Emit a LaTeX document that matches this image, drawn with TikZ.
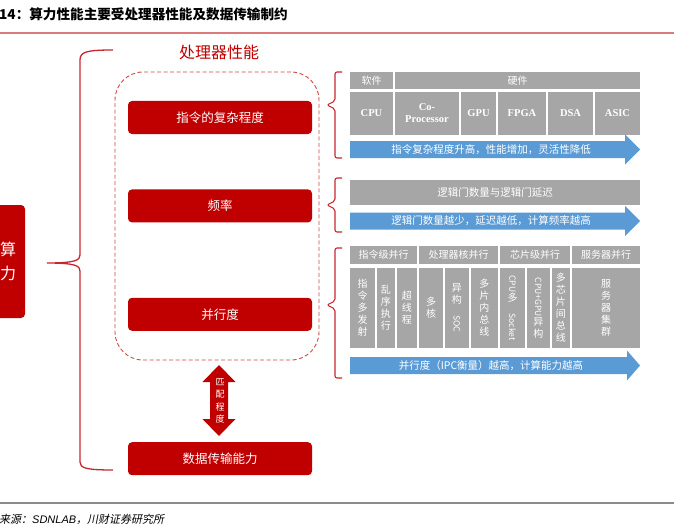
\documentclass[tikz,border=0pt]{standalone}
\usepackage{fontspec}
\setmainfont{Noto Sans CJK SC}
\newfontfamily\serifl{Liberation Serif}
\newfontfamily\sansl{Liberation Sans}
\newfontfamily\cjkslant{Noto Sans CJK SC}[FakeSlant=0.2]
\usetikzlibrary{positioning}
\definecolor{boxred}{HTML}{C00000}
\definecolor{framered}{HTML}{D04848}
\definecolor{bracered}{HTML}{C8262E}
\definecolor{cellgray}{HTML}{A6A6A6}
\definecolor{flowblue}{HTML}{5B9BD5}
\definecolor{rulered}{HTML}{DC7A7C}
\definecolor{rulegray}{HTML}{8C8C8C}
\newcommand{\rot}[1]{\rotatebox{-90}{\fontsize{8.5}{10}\selectfont #1}}
\newcommand{\flowarrow}[4]{%
  \fill[flowblue] (350,#2-8.5) -- (#3,#2-8.5) -- (#3,#2-15) -- (640,#2)
    -- (#3,#2+15) -- (#3,#2+8.5) -- (350,#2+8.5) -- cycle;
  \node[flowtext] (#1) at (491,#2) {#4};}
\newcommand{\sidebrace}[3]{%
  \draw[brc, rounded corners=2pt] (342,#1) -- (335,#1) -- (335,#3-4)
    -- (327,#3) -- (335,#3+4) -- (335,#2) -- (342,#2);}

\begin{document}
\begin{tikzpicture}[x=1pt,y=-1pt,
  redbox/.style={fill=boxred, rounded corners=4pt, text=white, inner sep=0pt,
    minimum width=184pt, minimum height=33pt, font=\fontsize{12.5}{14}\selectfont},
  frame/.style={draw=framered, dash pattern=on 4pt off 2.5pt, line width=0.9pt,
    rounded corners=28pt, minimum width=204pt, minimum height=288pt},
  brc/.style={draw=bracered, line width=1.1pt},
  cell/.style={fill=cellgray, text=white, inner sep=0pt, align=center},
  headcell/.style={cell, minimum height=17.5pt, font=\fontsize{10}{12}\selectfont},
  latcell/.style={cell, minimum height=43pt, font=\serifl\bfseries\fontsize{10.5}{12}\selectfont},
  stackcell/.style={cell, minimum height=80pt, font=\fontsize{10}{12}\selectfont},
  flowtext/.style={text=white, inner sep=0pt, font=\fontsize{10.5}{12}\selectfont}]
\useasboundingbox (0,0) rectangle (674,532);

% title and rules
\node[anchor=west, inner sep=0pt, font=\fontsize{13.6}{16}\selectfont\bfseries] (title)
  at (-1,14) {14：算力性能主要受处理器性能及数据传输制约};
\draw[rulered, line width=1.6pt] (0,33) -- (674,33);
\draw[rulegray, line width=1.8pt] (0,503) -- (674,503);
\node[anchor=west, inner sep=0pt, font=\cjkslant\fontsize{11}{13}\selectfont] (source)
  at (-1,519) {来源：{\sansl\itshape SDNLAB}，川财证券研究所};

% left side
\node[redbox, minimum width=34pt, minimum height=113pt, align=center,
  font=\fontsize{16}{24}\selectfont] (power) at (8,261.5) {算\\力};
\draw[brc, line width=1.3pt] (113,50) .. controls (86,50) and (80,52) .. (80,60) -- (80,255)
  .. controls (80,260) and (76,263) .. (47,263)
  .. controls (76,263) and (80,266) .. (80,271) -- (80,462)
  .. controls (80,468) and (86,470) .. (113,470);

% processor performance
\node[frame] (proc) at (217,216) {};
\node[text=boxred, inner sep=0pt, font=\fontsize{16}{18}\selectfont] (proclabel)
  at (219,52) {处理器性能};
\node[redbox] (ins) at (220,117.5) {指令的复杂程度};
\node[redbox, below=55pt of ins] (freq) {频率};
\node[redbox, below=75pt of freq] (par) {并行度};
\node[redbox, below=111pt of par] (data) {数据传输能力};
\fill[boxred] (219,365) -- (235.5,382) -- (228,382) -- (228,419) -- (235.5,419)
  -- (219,436) -- (202.5,419) -- (210,419) -- (210,382) -- (202.5,382) -- cycle;
\node[text=white, inner sep=0pt, align=center, font=\fontsize{9}{12.5}\selectfont] (match)
  at (220,401) {匹\\配\\程\\度};

% complexity group
\sidebrace{72}{158}{105}
\node[headcell, minimum width=43pt] (soft) at (371.5,80.75) {软件};
\node[headcell, minimum width=245pt] (hard) at (517.5,80.75) {硬件};
\foreach \nm/\xa/\xb/\txt in {cpu/350/393/CPU, cop/395/459/Co-\\Processor,
    gpu/461/496/GPU, fpga/498/546/FPGA, dsa/548/593/DSA, asic/595/640/ASIC}
  \node[latcell, minimum width={(\xb-\xa)*1pt}] (\nm) at ({(\xa+\xb)/2},113.5) {\txt};
\flowarrow{flowins}{149.5}{625}{指令复杂程度升高，性能增加，灵活性降低}

% frequency group
\sidebrace{178}{232}{205}
\node[cell, minimum width=290pt, minimum height=25pt, font=\fontsize{10.5}{12}\selectfont]
  (gate) at (495,192.5) {逻辑门数量与逻辑门延迟};
\flowarrow{flowfreq}{221}{625}{逻辑门数量越少，延迟越低，计算频率越高}

% parallelism group
\sidebrace{248}{378}{305}
\foreach \nm/\xa/\xb/\txt in {ilp/350/417/指令级并行, core/419/498/处理器核并行,
    chip/500/570/芯片级并行, server/572/640/服务器并行}
  \node[headcell, minimum width={(\xb-\xa)*1pt}] (\nm) at ({(\xa+\xb)/2},255) {\txt};
\foreach \nm/\xa/\xb/\txt in {p1/350/375/指\\令\\多\\发\\射, p2/376.5/395/乱\\序\\执\\行,
    p3/396.5/417/超\\线\\程, p4/419/443/多\\核, p5/444.5/469/异\\构\\\rot{SOC},
    p6/470.5/498/多\\片\\内\\总\\线, p7/500/525/\rot{CPU}\\多\\\rot{Socket},
    p8/526.5/550/\rot{CPU+GPU}\\异\\构, p9/551.5/570/多\\芯\\片\\间\\总\\线,
    p10/572/640/服\\务\\器\\集\\群}
  \node[stackcell, minimum width={(\xb-\xa)*1pt}] (\nm) at ({(\xa+\xb)/2},308) {\txt};
\flowarrow{flowpar}{365.5}{627}{并行度（IPC衡量）越高，计算能力越高}
\end{tikzpicture}
\end{document}
